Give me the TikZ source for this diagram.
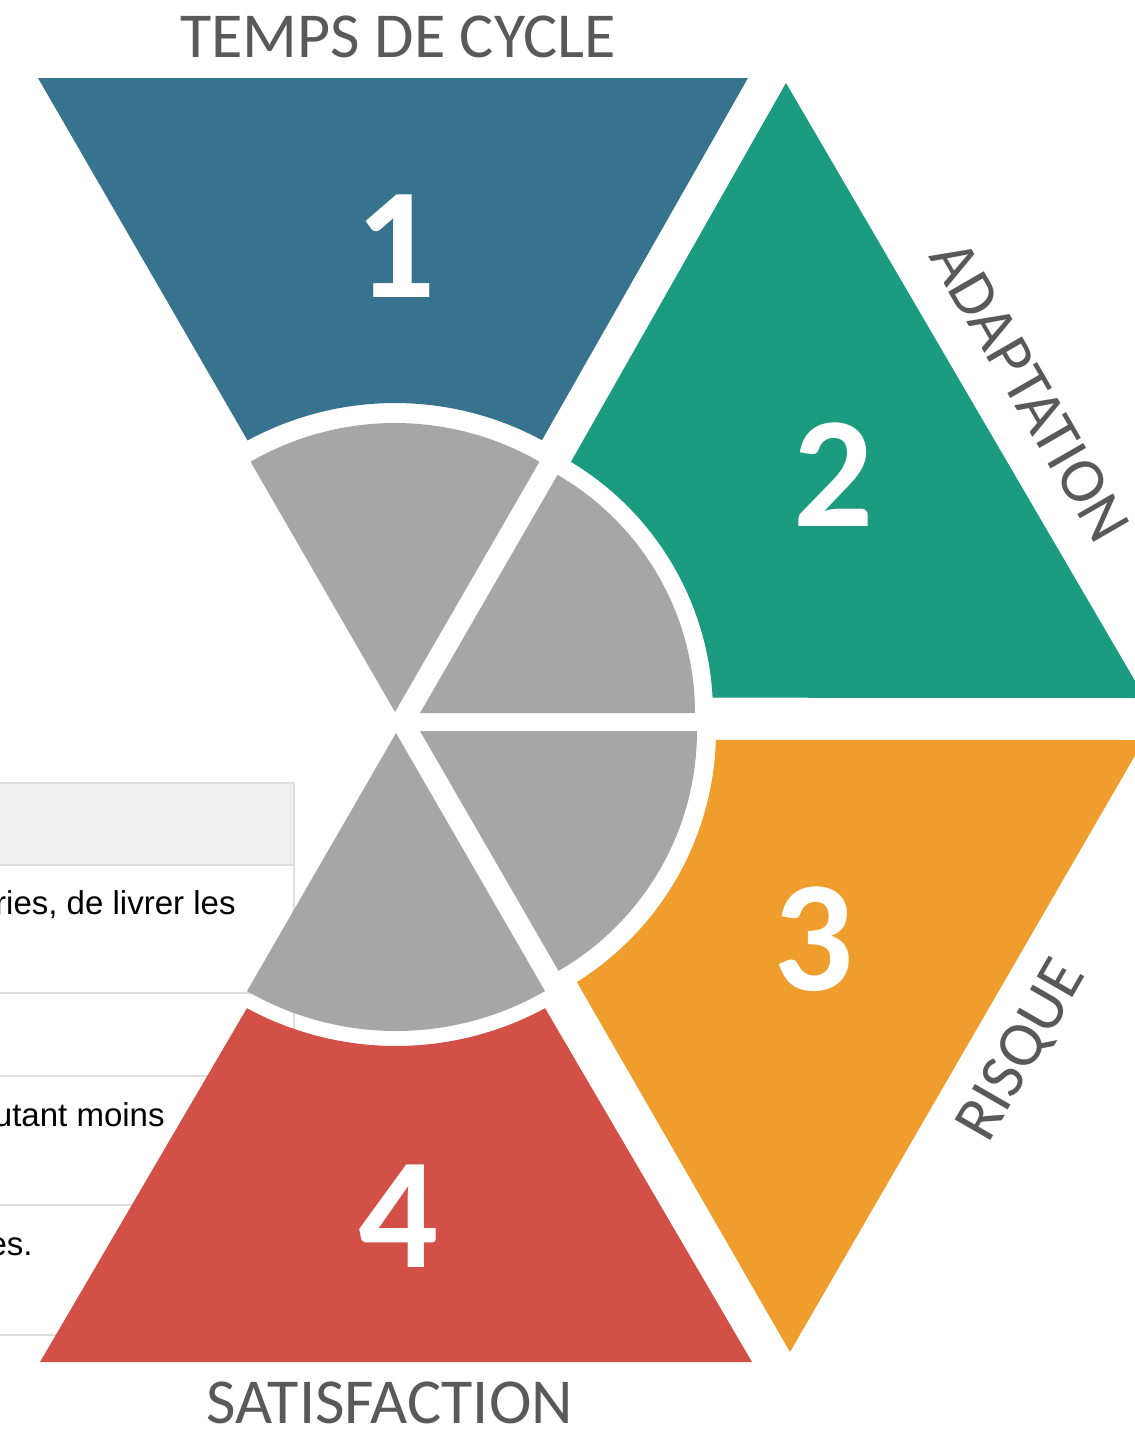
\documentclass[tikz,border=0pt]{standalone}
\usepackage{fontspec}
\setmainfont{Carlito}
\newfontfamily\tablefont{Liberation Sans}
\usetikzlibrary{calc}
\definecolor{cyclecolor}{RGB}{55,115,142}
\definecolor{adaptcolor}{RGB}{27,155,128}
\definecolor{riskcolor}{RGB}{239,158,45}
\definecolor{satcolor}{RGB}{210,80,69}
\definecolor{hubgray}{RGB}{166,166,166}
\definecolor{labelgray}{RGB}{89,89,89}
\definecolor{rulegray}{RGB}{221,221,221}
\definecolor{headgray}{RGB}{239,239,239}
\tikzset{
  sidetext/.style = {text=labelgray, inner sep=0pt, font=\fontsize{36.5}{42}\selectfont},
  bignum/.style   = {text=white, inner sep=0pt, font=\fontsize{90}{100}\selectfont\bfseries},
  tabtext/.style  = {text=black, inner sep=0pt, anchor=base east,
                     font=\tablefont\fontsize{18.8}{22}\selectfont},
  tabrule/.style  = {draw=rulegray, line width=1.2pt},
  hub/.style      = {fill=hubgray},
}

\begin{document}
\begin{tikzpicture}[x=0.02cm, y=0.02cm]
  \useasboundingbox (0,0) rectangle (1134,-1431);
  % table behind the wheel
  \begin{scope}
    \clip (0,0) rectangle (1134,-1431);
    \fill[headgray] (0,-783) rectangle (294,-865);
    \foreach \y in {783, 865, 993, 1076, 1205, 1335} {
      \draw[tabrule] (0,-\y) -- (294,-\y);
    }
    \draw[tabrule] (294,-783) -- (294,-1335);
    \node[tabtext] (row1) at (236,-914) {ries, de livrer les};
    \node[tabtext] (row2) at (165,-1126) {utant moins};
    \node[tabtext] (row3) at (33,-1255) {es.};
  \end{scope}
  % apexes of the four gray sectors
  \coordinate (hub1) at (395,-712);
  \coordinate (hub2) at (420,-713);
  \coordinate (hub3) at (420,-731);
  \coordinate (hub4) at (396,-733);
  % gray sectors
  \fill[hub] (hub1) -- ++(60:289) arc[start angle=60, end angle=120, radius=289] -- cycle;
  \fill[hub] (hub2) -- ++(0:275) arc[start angle=0, end angle=60, radius=275] -- cycle;
  \fill[hub] (hub3) -- ++(-60:277) arc[start angle=-60, end angle=0, radius=277] -- cycle;
  \fill[hub] (hub4) -- ++(240:298) arc[start angle=240, end angle=300, radius=298] -- cycle;
  % coloured pieces
  \fill[cyclecolor] (748,-78) -- ($(hub1)+(61.6:309)$)
    arc[start angle=61.6, end angle=118.5, radius=309] -- (38,-78) -- cycle;
  \fill[adaptcolor] (786,-83) -- ($(hub2)+(59:293)$)
    arc[start angle=59, end angle=3, radius=293] -- (1145,-698) -- cycle;
  \fill[riskcolor] (790,-1352) -- ($(hub3)+(-58:296)$)
    arc[start angle=-58, end angle=-1.7, radius=296] -- (1144,-740) -- cycle;
  \fill[satcolor] (40,-1362) -- ($(hub4)+(-118.45:313)$)
    arc[start angle=-118.45, end angle=-61.55, radius=313] -- (752,-1362) -- cycle;
  % numbers
  \node[bignum] (num1) at (396,-246) {1};
  \node[bignum] (num2) at (834,-475) {2};
  \node[bignum] (num3) at (814,-939) {3};
  \node[bignum] (num4) at (399,-1216) {4};
  % side labels
  \node[sidetext] (cycle) at (398,-37) {TEMPS DE CYCLE};
  \node[sidetext, rotate=-60] (adapt) at (1030,-391) {ADAPTATION};
  \node[sidetext, rotate=60] (risk) at (1023,-1051) {RISQUE};
  \node[sidetext] (satis) at (390,-1403) {SATISFACTION};
\end{tikzpicture}
\end{document}
